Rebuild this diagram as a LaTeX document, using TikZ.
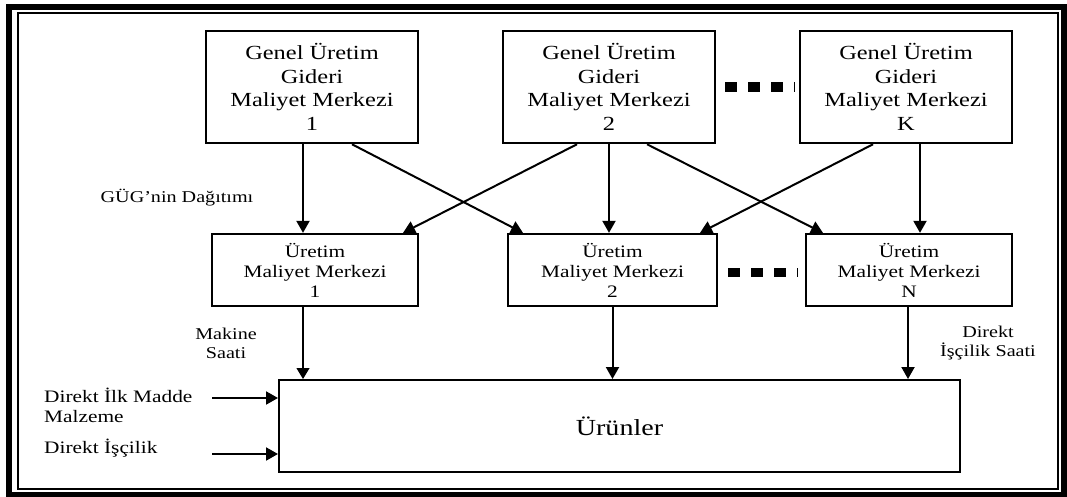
\documentclass[tikz,border=0pt]{standalone}
\usepackage{fontspec}
\setmainfont{Liberation Serif}[FakeStretch=1.22]
\usetikzlibrary{arrows.meta,calc}

\begin{document}
\begin{tikzpicture}[x=1pt,y=-1pt,
  topbox/.style={draw,line width=2.5pt,minimum width=212pt,minimum height=112pt,
    inner sep=0pt,align=center,font=\fontsize{20}{23.5}\selectfont},
  midbox/.style={draw,line width=2.3pt,minimum height=72pt,
    inner sep=0pt,align=center,font=\fontsize{17.5}{20}\selectfont},
  flow/.style={line width=2pt,-{Triangle[width=13pt,length=12pt]}},
  thinflow/.style={line width=1.2pt,-{Triangle[width=13pt,length=11pt]}},
  lbl/.style={align=center,inner sep=0pt,font=\fontsize{16.5}{19}\selectfont},
  inlbl/.style={align=left,anchor=west,inner sep=0pt,font=\fontsize{17.5}{20}\selectfont},
  dots/.style={dash pattern=on 12pt off 11pt}
]
\useasboundingbox (0,0) rectangle (1067,497);
\fill[white] (0,0) rectangle (1067,497);

% double frame
\draw[line width=6pt] (9,7.5) rectangle (1064,494.5);
\draw[line width=1.8pt] (18,13) rectangle (1058,489);

% overhead cost centres
\node[topbox] (g1) at (312,87) {Genel Üretim\\Gideri\\Maliyet Merkezi\\1};
\node[topbox] (g2) at (609,87) {Genel Üretim\\Gideri\\Maliyet Merkezi\\2};
\node[topbox] (gK) at (906,87) {Genel Üretim\\Gideri\\Maliyet Merkezi\\K};

% production cost centres
\node[midbox,minimum width=206pt] (m1) at (315,270) {Üretim\\Maliyet Merkezi\\1};
\node[midbox,minimum width=209pt] (m2) at (612.5,270) {Üretim\\Maliyet Merkezi\\2};
\node[midbox,minimum width=206pt] (mN) at (909,270) {Üretim\\Maliyet Merkezi\\N};

% products
\node[draw,line width=2pt,minimum width=681pt,minimum height=92pt,inner sep=0pt,
  font=\fontsize{23}{27}\selectfont] (u) at (619.5,426) {Ürünler};

% ellipsis marks
\draw[dots,line width=10pt] (725,87) -- (795,87);
\draw[dots,line width=9pt] (728,272.5) -- (798,272.5);

% overhead distribution
\draw[flow] ($(g1.south)+(-9,0)$) -- ($(m1.north)+(-12,0)$);
\draw[flow] ($(g1.south)+(40,0)$) -- ($(m2.north)+(-89.5,0)$);
\draw[flow] ($(g2.south)+(-32,0)$) -- ($(m1.north)+(88,0)$);
\draw[flow] (g2.south) -- (g2.south |- m2.north);
\draw[flow] ($(g2.south)+(38,0)$) -- ($(mN.north)+(-86,0)$);
\draw[flow] ($(gK.south)+(-33,0)$) -- ($(m2.north)+(87.5,0)$);
\draw[flow] ($(gK.south)+(14,0)$) -- ($(mN.north)+(11,0)$);

% allocation to products
\draw[thinflow] ($(m1.south)+(-12,0)$) -- ($(u.north)+(-316.5,0)$);
\draw[flow] (m2.south) -- (m2.south |- u.north);
\draw[flow] ($(mN.south)+(-1,0)$) -- ($(u.north)+(288.5,0)$);

% direct inputs
\coordinate (in1) at (212,398);
\coordinate (in2) at (212,454);
\draw[flow] (in1) -- (in1 -| u.west);
\draw[flow] (in2) -- (in2 -| u.west);

% labels
\node[lbl] (gug) at (177,198) {GÜG’nin Dağıtımı};
\node[lbl] (mak) at (226,343.5) {Makine\\Saati};
\node[lbl] (dis) at (988,343) {Direkt\\İşçilik Saati};
\node[inlbl] (dim) at (44,405) {Direkt İlk Madde\\Malzeme};
\node[inlbl] (dic) at (44,448) {Direkt İşçilik};
\end{tikzpicture}
\end{document}
